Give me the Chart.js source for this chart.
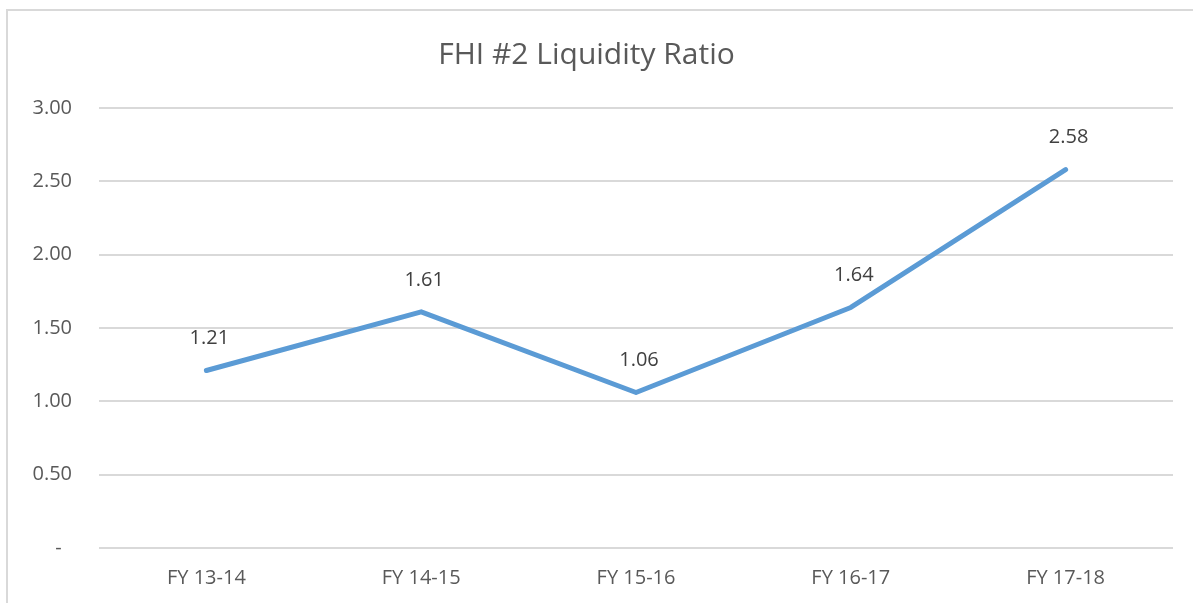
<!DOCTYPE html>
<html>
<head>
<meta charset="utf-8">
<script src="https://cdn.jsdelivr.net/npm/chart.js@4/dist/chart.umd.min.js"></script>
<style>
  html, body { margin: 0; padding: 0; background: #fff; }
  #wrap { position: relative; width: 1193px; height: 603px; }
  #frame { position: absolute; left: 6px; top: 9px; right: -2px; bottom: -2px; border: 2px solid #d9d9d9; }
  canvas { position: absolute; left: 0; top: 0; }
</style>
</head>
<body>
<div id="wrap">
  <div id="frame"></div>
  <canvas id="liquidityChart" width="1193" height="603"></canvas>
</div>
<script>
const categories = ['FY 13-14', 'FY 14-15', 'FY 15-16', 'FY 16-17', 'FY 17-18'];
const liquidityRatio = [1.21, 1.61, 1.06, 1.64, 2.58];
const yTicks = [0, 0.5, 1, 1.5, 2, 2.5, 3];

const fontFamily = "'Open Sans', sans-serif";

// draws the value above each point, like Excel data labels
const valueLabels = {
  id: 'valueLabels',
  afterDatasetsDraw(chart) {
    const { ctx } = chart;
    const meta = chart.getDatasetMeta(0);
    ctx.save();
    ctx.font = '20px ' + fontFamily;
    ctx.fillStyle = '#404040';
    ctx.textAlign = 'center';
    ctx.textBaseline = 'middle';
    meta.data.forEach((pt, i) => {
      ctx.fillText(liquidityRatio[i].toFixed(2), pt.x + 3, pt.y - 32);
    });
    ctx.restore();
  }
};

new Chart(document.getElementById('liquidityChart'), {
  type: 'line',
  data: {
    labels: categories,
    datasets: [{
      data: liquidityRatio,
      borderColor: '#5b9bd5',
      borderWidth: 5,
      borderCapStyle: 'round',
      borderJoinStyle: 'round',
      pointRadius: 0,
      tension: 0,
      fill: false
    }]
  },
  options: {
    responsive: false,
    animation: false,
    layout: { padding: { left: 0, right: 20, top: 0, bottom: 0 } },
    plugins: {
      legend: { display: false },
      tooltip: { enabled: false },
      title: {
        display: true,
        text: 'FHI #2 Liquidity Ratio',
        color: '#595959',
        font: { size: 30, family: fontFamily, weight: 'normal', lineHeight: 1.2 },
        padding: { top: 37, bottom: 35 }
      }
    },
    scales: {
      x: {
        offset: true,
        grid: { display: false, drawTicks: false },
        border: { display: false },
        ticks: { color: '#595959', font: { size: 20, family: fontFamily }, padding: 18 },
        afterFit(axis) { axis.height = 55; }
      },
      y: {
        min: 0,
        max: 3,
        afterBuildTicks(axis) { axis.ticks = yTicks.map(v => ({ value: v })); },
        grid: { color: '#d9d9d9', lineWidth: 2, drawTicks: false },
        border: { display: false },
        ticks: {
          color: '#595959',
          font: { size: 20, family: fontFamily },
          padding: 27,
          callback: v => v === 0 ? '-  ' : v.toFixed(2)
        },
        afterFit(axis) { axis.width = 99; }
      }
    }
  },
  plugins: [valueLabels]
});
</script>
</body>
</html>
